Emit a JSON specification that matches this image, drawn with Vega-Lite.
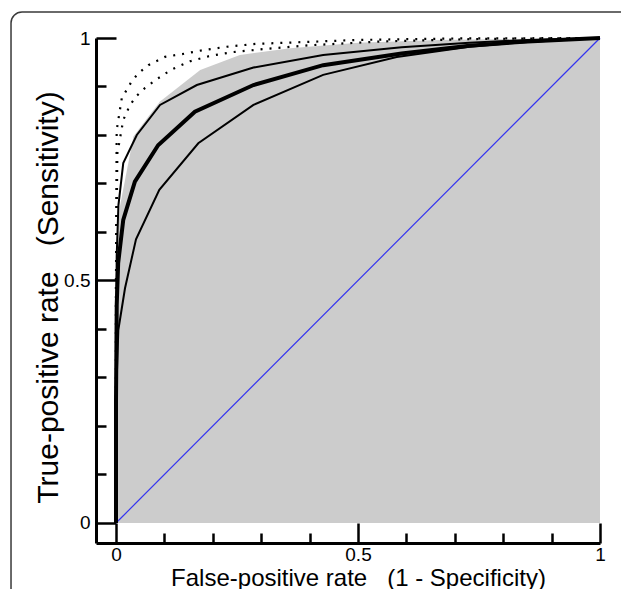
{
  "$schema": "https://vega.github.io/schema/vega-lite/v6.json",
  "width": 504,
  "height": 505,
  "autosize": {"type": "none"},
  "padding": {"left": 96, "top": 38, "right": 21, "bottom": 46},
  "background": "white",
  "config": {"view": {"stroke": null}, "font": "Liberation Sans"},
  "datasets": {
    "frame": [{"fpr": -0.2169, "fpr2": 1.3, "tpr": -0.3, "tpr2": 1.0536}],
    "env": [
      {"fpr": 0, "tpr": 0}, {"fpr": 0, "tpr": 0.55}, {"fpr": 0.008, "tpr": 0.652},
      {"fpr": 0.0186, "tpr": 0.707}, {"fpr": 0.036, "tpr": 0.797}, {"fpr": 0.067, "tpr": 0.838},
      {"fpr": 0.091, "tpr": 0.869}, {"fpr": 0.174, "tpr": 0.934}, {"fpr": 0.256, "tpr": 0.965},
      {"fpr": 0.36, "tpr": 0.979}, {"fpr": 0.5, "tpr": 0.99}, {"fpr": 0.67, "tpr": 0.996},
      {"fpr": 1, "tpr": 1}
    ],
    "diag": [{"fpr": 0, "tpr": 0}, {"fpr": 1, "tpr": 1}],
    "lower": [
      {"fpr": 0, "tpr": 0}, {"fpr": 0.0014, "tpr": 0.295}, {"fpr": 0.0048, "tpr": 0.398},
      {"fpr": 0.0186, "tpr": 0.484}, {"fpr": 0.0413, "tpr": 0.585}, {"fpr": 0.0895, "tpr": 0.687},
      {"fpr": 0.17, "tpr": 0.783}, {"fpr": 0.284, "tpr": 0.862}, {"fpr": 0.428, "tpr": 0.924},
      {"fpr": 0.58, "tpr": 0.961}, {"fpr": 0.73, "tpr": 0.982}, {"fpr": 0.85, "tpr": 0.992},
      {"fpr": 1, "tpr": 1}
    ],
    "mid": [
      {"fpr": 0, "tpr": 0}, {"fpr": 0, "tpr": 0.25}, {"fpr": 0.0015, "tpr": 0.45},
      {"fpr": 0.0045, "tpr": 0.536}, {"fpr": 0.015, "tpr": 0.625}, {"fpr": 0.039, "tpr": 0.704},
      {"fpr": 0.087, "tpr": 0.779}, {"fpr": 0.163, "tpr": 0.848}, {"fpr": 0.284, "tpr": 0.903},
      {"fpr": 0.428, "tpr": 0.944}, {"fpr": 0.59, "tpr": 0.968}, {"fpr": 0.73, "tpr": 0.984},
      {"fpr": 0.85, "tpr": 0.993}, {"fpr": 1, "tpr": 1}
    ],
    "upper": [
      {"fpr": 0, "tpr": 0}, {"fpr": 0, "tpr": 0.3}, {"fpr": 0.0014, "tpr": 0.55},
      {"fpr": 0.005, "tpr": 0.655}, {"fpr": 0.015, "tpr": 0.742}, {"fpr": 0.043, "tpr": 0.8},
      {"fpr": 0.091, "tpr": 0.862}, {"fpr": 0.167, "tpr": 0.903}, {"fpr": 0.284, "tpr": 0.939},
      {"fpr": 0.428, "tpr": 0.965}, {"fpr": 0.59, "tpr": 0.981}, {"fpr": 0.73, "tpr": 0.99},
      {"fpr": 0.85, "tpr": 0.996}, {"fpr": 1, "tpr": 1}
    ],
    "dot1": [
      {"fpr": 0, "tpr": 0}, {"fpr": 0, "tpr": 0.5}, {"fpr": 0.0014, "tpr": 0.81},
      {"fpr": 0.012, "tpr": 0.876}, {"fpr": 0.032, "tpr": 0.91}, {"fpr": 0.046, "tpr": 0.927},
      {"fpr": 0.067, "tpr": 0.944}, {"fpr": 0.101, "tpr": 0.961}, {"fpr": 0.143, "tpr": 0.968},
      {"fpr": 0.18, "tpr": 0.975}, {"fpr": 0.229, "tpr": 0.982}, {"fpr": 0.291, "tpr": 0.988},
      {"fpr": 0.346, "tpr": 0.99}, {"fpr": 0.5, "tpr": 0.996}, {"fpr": 0.7, "tpr": 0.999},
      {"fpr": 1, "tpr": 1}
    ],
    "dot2": [
      {"fpr": 0, "tpr": 0}, {"fpr": 0, "tpr": 0.5}, {"fpr": 0.0028, "tpr": 0.762},
      {"fpr": 0.015, "tpr": 0.831}, {"fpr": 0.029, "tpr": 0.862}, {"fpr": 0.043, "tpr": 0.881},
      {"fpr": 0.06, "tpr": 0.897}, {"fpr": 0.084, "tpr": 0.915}, {"fpr": 0.115, "tpr": 0.935},
      {"fpr": 0.153, "tpr": 0.952}, {"fpr": 0.194, "tpr": 0.963}, {"fpr": 0.242, "tpr": 0.971},
      {"fpr": 0.304, "tpr": 0.977}, {"fpr": 0.4, "tpr": 0.985}, {"fpr": 0.55, "tpr": 0.993},
      {"fpr": 0.75, "tpr": 0.998}, {"fpr": 1, "tpr": 1}
    ]
  },
  "encoding": {
    "x": {
      "field": "fpr", "type": "quantitative",
      "scale": {"domain": [-0.04132, 1], "nice": false, "zero": false},
      "axis": {
        "orient": "bottom",
        "values": [0, 0.1, 0.2, 0.3, 0.4, 0.5, 0.6, 0.7, 0.8, 0.9, 1],
        "tickSize": {"condition": {"test": "datum.value == 0 || datum.value == 0.5 || datum.value == 1", "value": -20}, "value": -10},
        "tickWidth": 2.5, "tickColor": "black",
        "domainColor": "black", "domainWidth": 3,
        "labelExpr": "datum.value == 0 ? '0' : datum.value == 0.5 ? '0.5' : datum.value == 1 ? '1' : ''",
        "labelFont": "Liberation Sans", "labelFontSize": 19, "labelColor": "black", "labelPadding": 22, "labelFlush": false,
        "grid": false,
        "title": "False-positive rate\u00a0\u00a0\u00a0(1 - Specificity)",
        "titleFont": "Liberation Sans", "titleFontSize": 24, "titleFontWeight": "normal", "titleColor": "black",
        "titleBaseline": "alphabetic", "titleY": 42, "titleX": 262
      }
    },
    "y": {
      "field": "tpr", "type": "quantitative",
      "scale": {"domain": [-0.04124, 1], "nice": false, "zero": false},
      "axis": {
        "orient": "left",
        "values": [0, 0.1, 0.2, 0.3, 0.4, 0.5, 0.6, 0.7, 0.8, 0.9, 1],
        "tickSize": {"condition": {"test": "datum.value == 0 || datum.value == 0.5 || datum.value == 1", "value": -20}, "value": -10},
        "tickWidth": 2.5, "tickColor": "black",
        "domainColor": "black", "domainWidth": 3,
        "labelExpr": "datum.value == 0 ? '0' : datum.value == 0.5 ? '0.5' : datum.value == 1 ? '1' : ''",
        "labelFont": "Liberation Sans", "labelFontSize": 19, "labelColor": "black", "labelPadding": 26, "labelFlush": false,
        "grid": false,
        "title": "True-positive rate\u00a0\u00a0\u00a0(Sensitivity)",
        "titleFont": "Liberation Sans", "titleFontSize": 30, "titleFontWeight": "normal", "titleColor": "black",
        "titleBaseline": "alphabetic", "titleX": -39, "titleY": 259
      }
    }
  },
  "layer": [
    {
      "data": {"name": "frame"},
      "mark": {"type": "rect", "filled": false, "stroke": "#3a3a3a", "strokeWidth": 1.5, "cornerRadius": 11},
      "encoding": {"x2": {"field": "fpr2"}, "y2": {"field": "tpr2"}}
    },
    {
      "data": {"name": "env"},
      "mark": {"type": "area", "fill": "#cccccc", "stroke": null},
      "encoding": {"y2": {"datum": 0}, "order": {"value": null}}
    },
    {
      "data": {"name": "diag"},
      "mark": {"type": "line", "stroke": "#3434f0", "strokeWidth": 1.2},
      "encoding": {"order": {"value": null}}
    },
    {
      "data": {"name": "lower"},
      "mark": {"type": "line", "stroke": "black", "strokeWidth": 2},
      "encoding": {"order": {"value": null}}
    },
    {
      "data": {"name": "upper"},
      "mark": {"type": "line", "stroke": "black", "strokeWidth": 2},
      "encoding": {"order": {"value": null}}
    },
    {
      "data": {"name": "mid"},
      "mark": {"type": "line", "stroke": "black", "strokeWidth": 4},
      "encoding": {"order": {"value": null}}
    },
    {
      "data": {"name": "dot1"},
      "mark": {"type": "line", "stroke": "black", "strokeWidth": 2.2, "strokeDash": [2, 7], "strokeCap": "butt"},
      "encoding": {"order": {"value": null}}
    },
    {
      "data": {"name": "dot2"},
      "mark": {"type": "line", "stroke": "black", "strokeWidth": 2.2, "strokeDash": [2, 7], "strokeCap": "butt"},
      "encoding": {"order": {"value": null}}
    }
  ]
}
